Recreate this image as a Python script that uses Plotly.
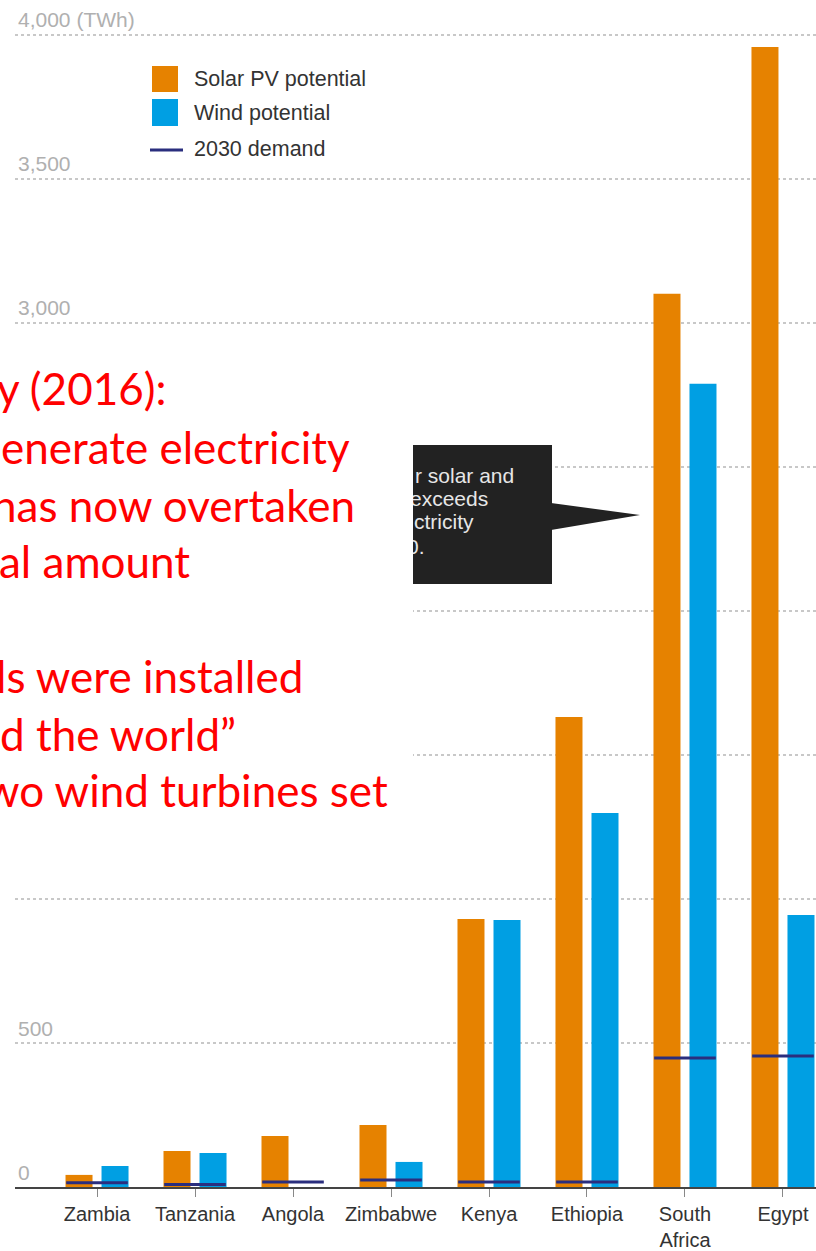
import plotly.graph_objects as go

# ---------------- data ----------------
countries = ["Zambia", "Tanzania", "Angola", "Zimbabwe", "Kenya", "Ethiopia", "South Africa", "Egypt"]
tick_labels = ["Zambia", "Tanzania", "Angola", "Zimbabwe", "Kenya", "Ethiopia", "South<br>Africa", "Egypt"]
solar_pv = [42, 125, 177, 215, 930, 1631, 3100, 3957]
wind = [73, 118, 0, 87, 927, 1298, 2788, 944]
demand_2030 = [15, 9, 17, 24, 17, 17, 448, 455]
y_tickvals = [0, 500, 1000, 1500, 2000, 2500, 3000, 3500, 4000]
y_ticktext = ["0", "500", "1,000", "1,500", "2,000", "2,500", "3,000", "3,500", "4,000 (TWh)"]

legend_names = ["Solar PV potential", "Wind potential", "2030 demand"]
callout_lines = ["r solar and", "exceeds", "ctricity", "0."]
overlay_lines = ["y (2016):", "enerate electricity", "has now overtaken", "al amount",
                 "ls were installed", "d the world\u201d", "wo wind turbines set"]

# ---------------- styling ----------------
W, H = 816, 1251
ML, MR, MT, MB = 15, 0, 0, 64
PW, PH = W - ML - MR, H - MT - MB
ORANGE = "#E68200"
BLUE = "#009FE3"
NAVY = "#2A2E7E"


def px(x):
    return (x - ML) / PW


def py(y):
    return (MT + PH - y) / PH


fig = go.Figure()
fig.add_trace(go.Bar(name=legend_names[0], x=countries, y=solar_pv,
                     marker=dict(color=ORANGE, line=dict(width=0))))
fig.add_trace(go.Bar(name=legend_names[1], x=countries, y=wind,
                     marker=dict(color=BLUE, line=dict(width=0))))
fig.add_trace(go.Scatter(name=legend_names[2], x=countries, y=demand_2030, mode="markers",
                         marker=dict(symbol="line-ew", size=44,
                                     line=dict(color=NAVY, width=3))))

shapes = []
annotations = []

# legend (drawn manually to match large swatches)
shapes.append(dict(type="rect", xref="paper", yref="paper", x0=px(152), x1=px(178),
                   y0=py(92), y1=py(66), fillcolor=ORANGE, line=dict(width=0), layer="above"))
shapes.append(dict(type="rect", xref="paper", yref="paper", x0=px(152), x1=px(178),
                   y0=py(126), y1=py(99), fillcolor=BLUE, line=dict(width=0), layer="above"))
shapes.append(dict(type="line", xref="paper", yref="paper", x0=px(150), x1=px(183),
                   y0=py(150), y1=py(150), line=dict(color=NAVY, width=3), layer="above"))
for name, yc in zip(legend_names, [79, 113, 149]):
    annotations.append(dict(xref="paper", yref="paper", x=px(192), y=py(yc), text=name,
                            showarrow=False, xanchor="left", yanchor="middle",
                            font=dict(family="Liberation Sans, Arial, sans-serif", size=21.5, color="#333333")))

# callout box
shapes.append(dict(type="rect", xref="paper", yref="paper", x0=px(413), x1=px(552),
                   y0=py(584), y1=py(445), fillcolor="#222222", line=dict(width=0), layer="above"))
shapes.append(dict(type="path", xref="paper", yref="paper",
                   path=f"M {px(551)},{py(503)} L {px(640)},{py(515)} L {px(551)},{py(530)} Z",
                   fillcolor="#222222", line=dict(width=0), layer="above"))
for txt, xs, yc in zip(callout_lines, [413, 408, 412, 405], [475, 498, 521, 546]):
    annotations.append(dict(xref="paper", yref="paper", x=px(xs), y=py(yc), text=txt,
                            showarrow=False, xanchor="left", yanchor="middle",
                            font=dict(family="Liberation Sans, Arial, sans-serif", size=21, color="#e6e6e6")))

# white panel of the overlaid slide text
annotations.append(dict(xref="paper", yref="paper", x=px(0), y=py(330), text=" ",
                        showarrow=False, xanchor="left", yanchor="top", width=413, height=565,
                        bgcolor="#ffffff", borderpad=0, borderwidth=0))

# red overlay text (right-anchored, cut at the left edge)
for txt, xr, base in zip(overlay_lines, [168, 352, 357, 192, 305, 238, 390],
                         [405, 464, 522, 578, 693, 751, 807]):
    annotations.append(dict(xref="paper", yref="paper", x=px(xr), y=py(base - 17), text=txt,
                            showarrow=False, xanchor="right", yanchor="middle",
                            font=dict(family="Lato, sans-serif", size=44, color="#ff0000")))

fig.update_layout(
    width=W, height=H,
    margin=dict(l=ML, r=MR, t=MT, b=MB, pad=0, autoexpand=False),
    paper_bgcolor="#ffffff", plot_bgcolor="#ffffff",
    barmode="group", bargap=0.265, bargroupgap=0.25,
    showlegend=False,
    shapes=shapes, annotations=annotations,
    xaxis=dict(type="category", range=[-0.837, 7.337], tickmode="array",
               tickvals=countries, ticktext=tick_labels, automargin=False,
               showline=True, linecolor="#444444", linewidth=2,
               ticks="outside", ticklen=8, tickcolor="#888888", tickwidth=1,
               ticklabelstandoff=0, showgrid=False,
               tickfont=dict(family="Liberation Sans, Arial, sans-serif", size=20, color="#333333")),
    yaxis=dict(range=[0, 4120], tickmode="array", tickvals=y_tickvals, ticktext=y_ticktext,
               ticklabelposition="inside top", ticklabeloverflow="allow", automargin=False,
               showgrid=True, gridcolor="#c8c8c8", gridwidth=1.5, griddash="dot",
               zeroline=False, showline=False, ticks="",
               tickfont=dict(family="Liberation Sans, Arial, sans-serif", size=21, color="#b0b0b0")),
)

fig.write_html("out.html")
